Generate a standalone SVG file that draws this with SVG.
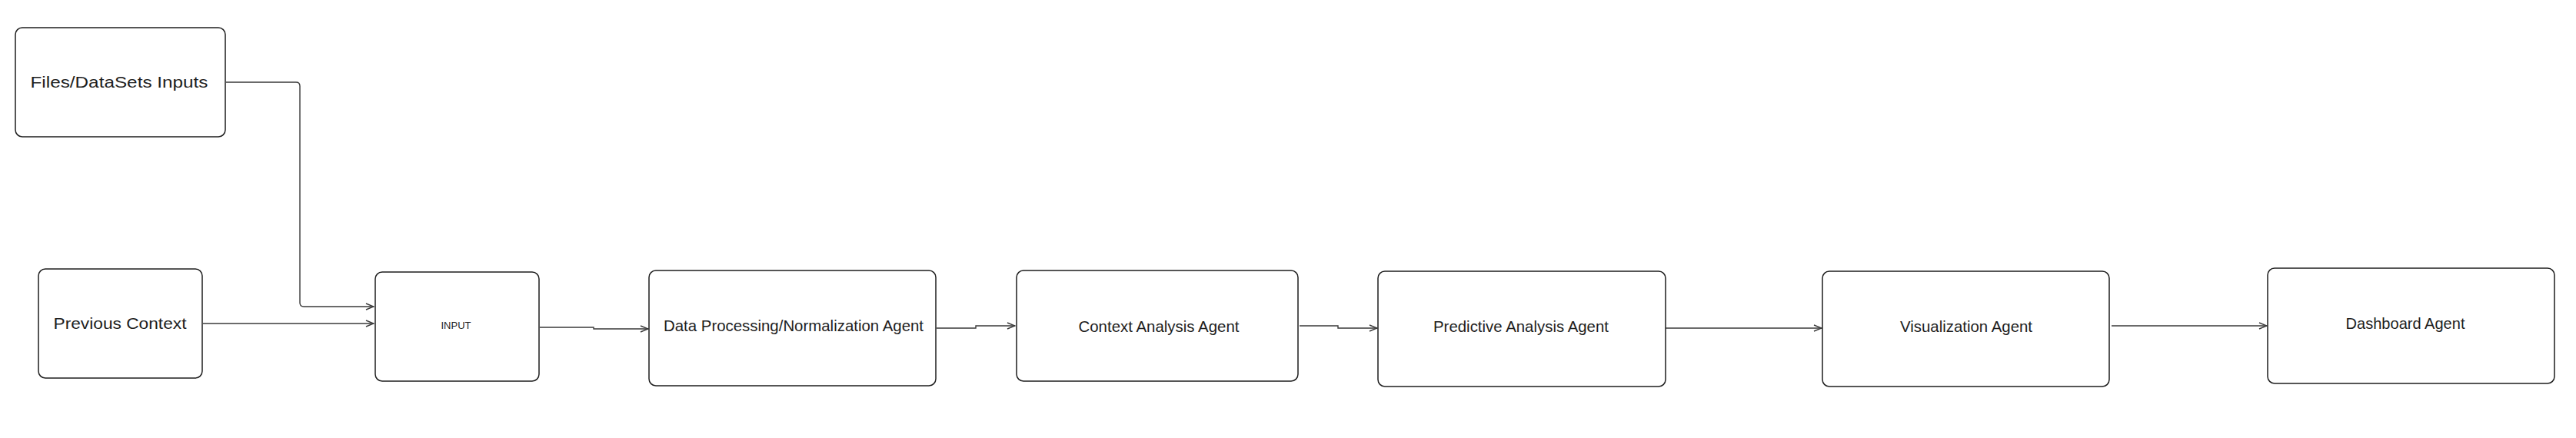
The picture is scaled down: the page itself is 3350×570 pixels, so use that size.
<svg xmlns="http://www.w3.org/2000/svg" width="3350" height="570" viewBox="0 0 3350 570">
<style>
.box{fill:#ffffff;stroke:#1e1e1e;stroke-width:1.5}
.lbl{font-family:"Liberation Sans",Arial,sans-serif;font-size:21px;fill:#1e1e1e;text-anchor:middle;dominant-baseline:central}
.small{font-size:12px}
.conn{fill:none;stroke:#3a3a3a;stroke-width:1.4;marker-end:url(#arr)}
</style>
<defs>
<marker id="arr" viewBox="0 0 12 10" refX="11" refY="5" markerWidth="12" markerHeight="10" markerUnits="userSpaceOnUse" orient="auto">
<path d="M1,1 L11,5 L1,9" fill="none" stroke="#3a3a3a" stroke-width="1.4"/>
</marker>
</defs>
<rect width="3350" height="570" fill="#ffffff"/>
<g id="connectors">
<path class="conn" d="M294,107 H385 Q390,107 390,112 V394 Q390,399 395,399 H486"/>
<path class="conn" d="M264,421 H486"/>
<path class="conn" d="M702,426 H772 V428 H843"/>
<path class="conn" d="M1218,427 H1269 V424 H1320"/>
<path class="conn" d="M1690,424 H1740 V427 H1791"/>
<path class="conn" d="M2166,427 H2369"/>
<path class="conn" d="M2746,424 H2948"/>
</g>
<g id="files">
<rect class="box" x="20" y="36" width="273" height="142" rx="9"/>
<text class="lbl" x="155" y="106" textLength="231" lengthAdjust="spacingAndGlyphs">Files/DataSets Inputs</text>
</g>
<g id="previous">
<rect class="box" x="50" y="350" width="213" height="142" rx="9"/>
<text class="lbl" x="156" y="420" textLength="173" lengthAdjust="spacingAndGlyphs">Previous Context</text>
</g>
<g id="input">
<rect class="box" x="488" y="354" width="213" height="142" rx="9"/>
<text class="lbl small" x="593" y="424" textLength="39" lengthAdjust="spacingAndGlyphs">INPUT</text>
</g>
<g id="dataproc">
<rect class="box" x="844" y="352" width="373" height="150" rx="9"/>
<text class="lbl" x="1032" y="423" textLength="338" lengthAdjust="spacingAndGlyphs">Data Processing/Normalization Agent</text>
</g>
<g id="context">
<rect class="box" x="1322" y="352" width="366" height="144" rx="9"/>
<text class="lbl" x="1507" y="424" textLength="209" lengthAdjust="spacingAndGlyphs">Context Analysis Agent</text>
</g>
<g id="predictive">
<rect class="box" x="1792" y="353" width="374" height="150" rx="9"/>
<text class="lbl" x="1978" y="424" textLength="228" lengthAdjust="spacingAndGlyphs">Predictive Analysis Agent</text>
</g>
<g id="visualization">
<rect class="box" x="2370" y="353" width="373" height="150" rx="9"/>
<text class="lbl" x="2557" y="424" textLength="172" lengthAdjust="spacingAndGlyphs">Visualization Agent</text>
</g>
<g id="dashboard">
<rect class="box" x="2949" y="349" width="373" height="150" rx="9"/>
<text class="lbl" x="3128" y="420" textLength="155" lengthAdjust="spacingAndGlyphs">Dashboard Agent</text>
</g>
</svg>
